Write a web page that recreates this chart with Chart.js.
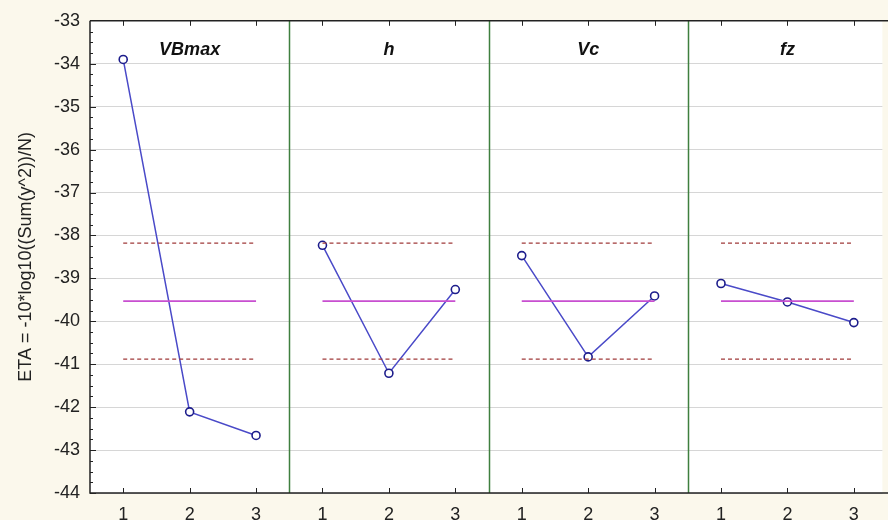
<!DOCTYPE html>
<html lang="en">
<head>
  <meta charset="UTF-8">
  <title>ETA main effects</title>
  <script src="https://cdn.jsdelivr.net/npm/chart.js"></script>
  <style>
    body { margin: 0; background: #fbf8ec; }
    .chart-box { width: 888px; height: 520px; position: relative; }
  </style>
</head>
<body>
<div class="chart-box">
  <canvas id="etaChart"></canvas>
</div>
<script>
  // factors (one panel each) and their levels
  const factors = ['VBmax', 'h', 'Vc', 'fz'];
  const levels = ['1', '2', '3'];

  // ETA per level
  const etaVBmax = [-33.9, -42.11, -42.66];
  const etaH = [-38.23, -41.21, -39.26];
  const etaVc = [-38.47, -40.83, -39.41];
  const etaFz = [-39.12, -39.55, -40.03];

  // grand mean and the two dashed limits
  const etaMean = -39.53;
  const etaUpper = -38.18;
  const etaLower = -40.88;

  const yTicks = [-44, -43, -42, -41, -40, -39, -38, -37, -36, -35, -34, -33];

  const series = [etaVBmax, etaH, etaVc, etaFz];
  const xs = [];
  factors.forEach((f, p) => levels.forEach((l, i) => xs.push(p * levels.length + i)));

  function panelPoints(values, p) {
    return values.map((v, i) => ({ x: p * levels.length + i, y: v }));
  }
  // horizontal line per panel, broken between panels
  function refLine(v) {
    const pts = [];
    factors.forEach((f, p) => {
      pts.push({ x: p * 3, y: v }, { x: p * 3 + 2, y: v }, { x: p * 3 + 2.5, y: null });
    });
    return pts;
  }

  const datasets = [
    { data: refLine(etaUpper), borderColor: '#a03a3a', borderWidth: 1.2, borderDash: [4, 3], pointRadius: 0 },
    { data: refLine(etaLower), borderColor: '#a03a3a', borderWidth: 1.2, borderDash: [4, 3], pointRadius: 0 },
    { data: refLine(etaMean), borderColor: '#c84fd0', borderWidth: 1.6, pointRadius: 0 }
  ];
  series.forEach((vals, p) => {
    datasets.push({
      data: panelPoints(vals, p),
      borderColor: '#4a4ac8',
      borderWidth: 1.5,
      pointRadius: 4,
      pointBorderWidth: 1.6,
      pointBackgroundColor: '#ffffff',
      pointBorderColor: '#1d1d8c'
    });
  });

  // background, separators, frame, inward ticks, panel names, y title
  const decor = {
    id: 'decor',
    beforeDraw(chart) {
      const { ctx, chartArea: a } = chart;
      ctx.save();
      ctx.fillStyle = '#fbf8ec';
      ctx.fillRect(0, 0, chart.width, chart.height);
      ctx.fillStyle = '#ffffff';
      ctx.fillRect(a.left, a.top, a.right - a.left, a.bottom - a.top);
      ctx.restore();
    },
    beforeDatasetsDraw(chart) {
      const { ctx, chartArea: a, scales: { x } } = chart;
      ctx.save();
      ctx.strokeStyle = '#3f7f3f';
      ctx.lineWidth = 1.5;
      for (let p = 1; p < factors.length; p++) {
        const px = Math.round(x.getPixelForValue(p * 3 - 0.5)) + 0.5;
        ctx.beginPath();
        ctx.moveTo(px, a.top);
        ctx.lineTo(px, a.bottom);
        ctx.stroke();
      }
      ctx.restore();
    },
    afterDraw(chart) {
      const { ctx, chartArea: a, scales: { x, y } } = chart;
      ctx.save();
      ctx.strokeStyle = '#222';
      ctx.lineWidth = 1.5;
      ctx.beginPath();
      ctx.moveTo(a.left, a.top);
      ctx.lineTo(chart.width, a.top);
      ctx.moveTo(a.left, a.top);
      ctx.lineTo(a.left, a.bottom);
      ctx.lineTo(chart.width, a.bottom);
      ctx.stroke();

      ctx.lineWidth = 1;
      ctx.beginPath();
      xs.forEach(v => {
        const px = Math.round(x.getPixelForValue(v)) + 0.5;
        ctx.moveTo(px, a.top);
        ctx.lineTo(px, a.top + 5);
        ctx.moveTo(px, a.bottom);
        ctx.lineTo(px, a.bottom - 5);
      });
      for (let v = -44; v <= -33.001; v += 0.25) {
        const py = Math.round(y.getPixelForValue(v)) + 0.5;
        const len = Number.isInteger(v) ? 6 : 3;
        ctx.moveTo(a.left, py);
        ctx.lineTo(a.left + len, py);
      }
      ctx.stroke();

      ctx.fillStyle = '#111';
      ctx.font = 'italic bold 18px "Liberation Sans", Arial, sans-serif';
      ctx.textAlign = 'center';
      ctx.textBaseline = 'middle';
      factors.forEach((f, p) => {
        ctx.fillText(f, x.getPixelForValue(p * 3 + 1), a.top + 29);
      });

      ctx.translate(26, (a.top + a.bottom) / 2);
      ctx.rotate(-Math.PI / 2);
      ctx.font = '18px "Liberation Sans", Arial, sans-serif';
      ctx.fillStyle = '#222';
      ctx.fillText('ETA = -10*log10((Sum(y^2))/N)', 0, 0);
      ctx.restore();
    }
  };

  new Chart(document.getElementById('etaChart'), {
    type: 'line',
    data: { datasets: datasets },
    options: {
      responsive: true,
      maintainAspectRatio: false,
      animation: false,
      layout: { padding: { top: 20, left: 0, right: 0, bottom: 0 } },
      plugins: { legend: { display: false }, tooltip: { enabled: false } },
      scales: {
        x: {
          type: 'linear',
          min: -0.5,
          max: 11.43,
          afterBuildTicks: s => { s.ticks = xs.map(v => ({ value: v })); },
          afterFit: s => { s.height = 27; },
          grid: { display: false, drawTicks: false },
          border: { display: false },
          ticks: {
            padding: 11,
            maxRotation: 0,
            autoSkip: false,
            color: '#222',
            font: { family: '"Liberation Sans", Arial, sans-serif', size: 18 },
            callback: v => levels[Math.round(v) % levels.length]
          }
        },
        y: {
          min: -44,
          max: -33,
          afterBuildTicks: s => { s.ticks = yTicks.map(v => ({ value: v })); },
          afterFit: s => { s.width = 90; },
          grid: { color: '#d6d6d6', drawTicks: false },
          border: { display: false },
          ticks: {
            padding: 10,
            color: '#222',
            font: { family: '"Liberation Sans", Arial, sans-serif', size: 18 }
          }
        }
      }
    },
    plugins: [decor]
  });
</script>
</body>
</html>
